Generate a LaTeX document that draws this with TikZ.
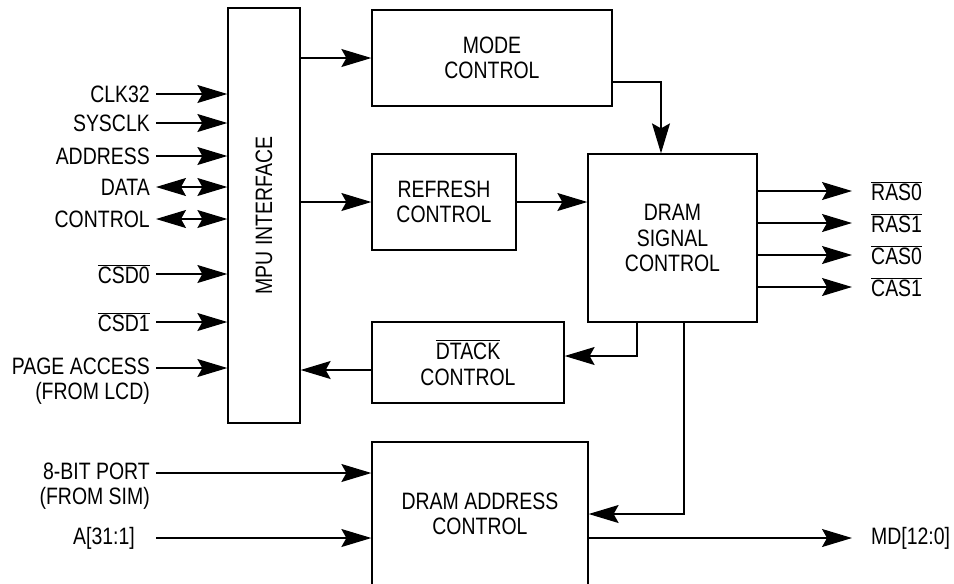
\documentclass[tikz,border=0pt]{standalone}
\usepackage{fontspec}
\usepackage{graphicx}
\setmainfont{Liberation Sans}[FakeStretch=0.82]
\usetikzlibrary{arrows.meta,positioning}
\newcommand{\barsig}[1]{$\overline{\mbox{#1}}$}
\begin{document}
\begin{tikzpicture}[x=0.02cm, y=-0.02cm, font=\fontsize{13.5}{14.4}\selectfont,
    blk/.style={draw, line width=0.75pt, align=center, inner sep=0pt},
    sig/.style={-{Stealth[length=0.6cm, width=0.36cm, inset=0.1cm]}, line width=0.7pt},
    bisig/.style={{Stealth[length=0.6cm, width=0.36cm, inset=0.1cm]}-{Stealth[length=0.6cm, width=0.36cm, inset=0.1cm]}, line width=0.7pt}]
    \useasboundingbox (0,0) rectangle (954,583);
    % Draw blocks
    \node [blk, minimum width=1.44cm, minimum height=8.3cm] (mpu) at (264,215.5) {\rotatebox{90}{MPU INTERFACE}};
    \node [blk, minimum width=4.8cm, minimum height=1.92cm] (mode) at (492,58) {MODE\\CONTROL};
    \node [blk, minimum width=2.88cm, minimum height=1.92cm] (refresh) at (444,202) {REFRESH\\CONTROL};
    \node [blk, minimum width=3.38cm, minimum height=3.36cm] (dsig) at (672.5,238) {DRAM\\SIGNAL\\CONTROL};
    \node [blk, minimum width=3.84cm, minimum height=1.62cm] (dtack) at (468,362.5) {\barsig{DTACK}\\CONTROL};
    \node [blk, minimum width=4.32cm, minimum height=2.88cm] (addr) at (480,514) {DRAM ADDRESS\\CONTROL};
    % Inputs to MPU interface
    \coordinate (clk) at (156,94);
    \coordinate (sysclk) at (156,123);
    \coordinate (adr) at (156,156);
    \coordinate (data) at (156,187);
    \coordinate (ctrl) at (156,219);
    \coordinate (csd0) at (156,274);
    \coordinate (csd1) at (156,322);
    \coordinate (page) at (156,368);
    \draw [sig] (clk) -- (clk -| mpu.west);
    \draw [sig] (sysclk) -- (sysclk -| mpu.west);
    \draw [sig] (adr) -- (adr -| mpu.west);
    \draw [bisig] (data) -- (data -| mpu.west);
    \draw [bisig] (ctrl) -- (ctrl -| mpu.west);
    \draw [sig] (csd0) -- (csd0 -| mpu.west);
    \draw [sig] (csd1) -- (csd1 -| mpu.west);
    \draw [sig] (page) -- (page -| mpu.west);
    \node [left] (lclk) at (clk) {CLK32};
    \node [left] (lsysclk) at (sysclk) {SYSCLK};
    \node [left] (ladr) at (adr) {ADDRESS};
    \node [left] (ldata) at (data) {DATA};
    \node [left] (lctrl) at (ctrl) {CONTROL};
    \node [left] (lcsd0) at (csd0) {\barsig{CSD0}};
    \node [left] (lcsd1) at (csd1) {\barsig{CSD1}};
    \node [left, align=right, yshift=-0.26cm] (lpage) at (page) {PAGE ACCESS\\(FROM LCD)};
    % Inputs to address control
    \coordinate (port) at (156,473);
    \coordinate (abus) at (156,538);
    \draw [sig] (port) -- (port -| addr.west);
    \draw [sig] (abus) -- (abus -| addr.west);
    \node [left, align=right, yshift=-0.26cm] (lport) at (port) {8-BIT PORT\\(FROM SIM)};
    \node [left, xshift=-0.3cm] (labus) at (abus) {A[31:1]};
    % Internal connections
    \coordinate (m2s) at (661,82);
    \coordinate (s2d) at (637,356);
    \coordinate (s2a) at (684,514);
    \coordinate (d2m) at (372,370);
    \draw [sig] (mpu.east |- mode.west) -- (mode.west);
    \draw [sig] (mpu.east |- refresh.west) -- (refresh.west);
    \draw [sig] (refresh.east) -- (refresh.east -| dsig.west);
    \draw [sig] (mode.east |- m2s) -| (dsig.north -| m2s);
    \draw [sig] (dsig.south -| s2d) |- (dtack.east |- s2d);
    \draw [sig] (dsig.south -| s2a) |- (addr.east |- s2a);
    \draw [sig] (d2m) -- (d2m -| mpu.east);
    % Outputs
    \coordinate (ras0) at (852,191);
    \coordinate (ras1) at (852,223);
    \coordinate (cas0) at (852,255);
    \coordinate (cas1) at (852,287);
    \coordinate (md) at (852,538);
    \draw [sig] (dsig.east |- ras0) -- (ras0);
    \draw [sig] (dsig.east |- ras1) -- (ras1);
    \draw [sig] (dsig.east |- cas0) -- (cas0);
    \draw [sig] (dsig.east |- cas1) -- (cas1);
    \draw [sig] (addr.east |- md) -- (md);
    \node [right=0.26cm] (lras0) at (ras0) {\barsig{RAS0}};
    \node [right=0.26cm] (lras1) at (ras1) {\barsig{RAS1}};
    \node [right=0.26cm] (lcas0) at (cas0) {\barsig{CAS0}};
    \node [right=0.26cm] (lcas1) at (cas1) {\barsig{CAS1}};
    \node [right=0.26cm] (lmd) at (md) {MD[12:0]};
\end{tikzpicture}
\end{document}
